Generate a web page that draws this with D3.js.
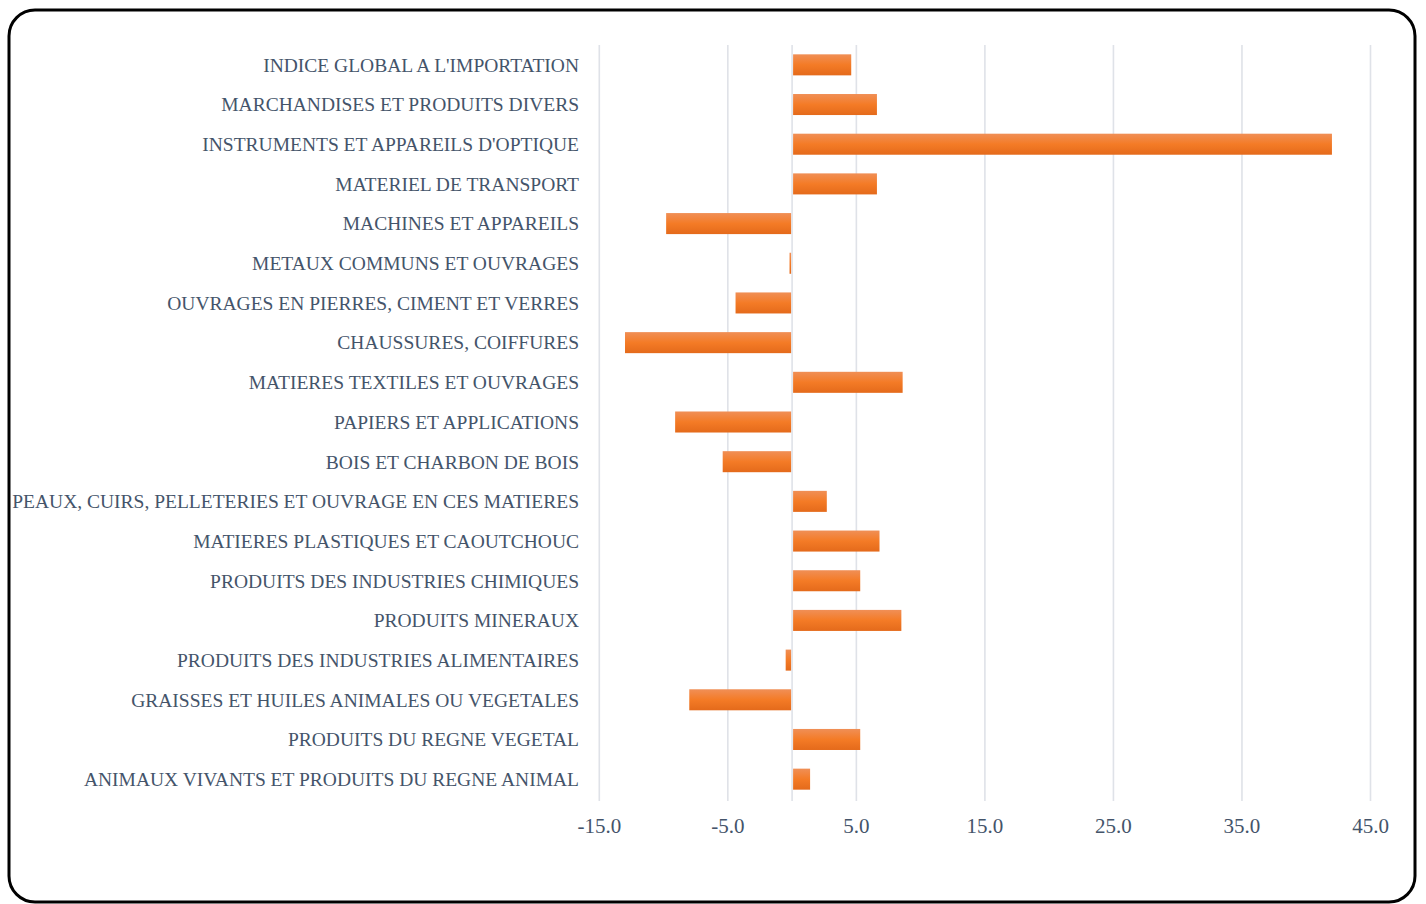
<!DOCTYPE html>
<html>
<head>
<meta charset="utf-8">
<script src="https://cdn.jsdelivr.net/npm/d3@7"></script>
<style>
  body { margin: 0; background: #fff; }
  svg text { font-family: "Liberation Serif", "DejaVu Serif", serif; fill: #44546a; }
</style>
</head>
<body>
<script>

var categories = [
  "INDICE GLOBAL A L'IMPORTATION",
  "MARCHANDISES ET PRODUITS DIVERS",
  "INSTRUMENTS ET APPAREILS D'OPTIQUE",
  "MATERIEL DE TRANSPORT",
  "MACHINES ET APPAREILS",
  "METAUX COMMUNS ET OUVRAGES",
  "OUVRAGES EN PIERRES, CIMENT ET VERRES",
  "CHAUSSURES, COIFFURES",
  "MATIERES TEXTILES ET OUVRAGES",
  "PAPIERS ET APPLICATIONS",
  "BOIS ET CHARBON DE BOIS",
  "PEAUX, CUIRS, PELLETERIES ET OUVRAGE EN CES MATIERES",
  "MATIERES PLASTIQUES ET CAOUTCHOUC",
  "PRODUITS DES INDUSTRIES CHIMIQUES",
  "PRODUITS MINERAUX",
  "PRODUITS DES INDUSTRIES ALIMENTAIRES",
  "GRAISSES ET HUILES ANIMALES OU VEGETALES",
  "PRODUITS DU REGNE VEGETAL",
  "ANIMAUX VIVANTS ET PRODUITS DU REGNE ANIMAL"
]

var values = [4.6, 6.6, 42.0, 6.6, -9.8, -0.2, -4.4, -13.0, 8.6, -9.1, -5.4, 2.7, 6.8, 5.3, 8.5, -0.5, -8.0, 5.3, 1.4]

var tickValues = [-15, -5, 5, 15, 25, 35, 45]

var W = 1426, H = 904
var plotLeft = 599.3, plotRight = 1370.5, plotTop = 45, plotBottom = 799

var svg = d3.select("body").append("svg")
  .attr("width", W)
  .attr("height", H)

var defs = svg.append("defs")
var grad = defs.append("linearGradient")
  .attr("id", "barGrad")
  .attr("x1", 0).attr("y1", 0).attr("x2", 0).attr("y2", 1)
grad.append("stop").attr("offset", "0%").attr("stop-color", "#f08f56")
grad.append("stop").attr("offset", "50%").attr("stop-color", "#f47b26")
grad.append("stop").attr("offset", "100%").attr("stop-color", "#e46a1b")

// frame
svg.append("rect")
  .attr("x", 9).attr("y", 10)
  .attr("width", 1406).attr("height", 892)
  .attr("rx", 26).attr("ry", 26)
  .style("fill", "#fff")
  .style("stroke", "#000")
  .style("stroke-width", 3)

var x = d3.scaleLinear().domain([-15, 45]).range([plotLeft, plotRight])
var y = d3.scaleBand().domain(categories).range([plotTop, plotBottom]).paddingInner(0.47).paddingOuter(0.235)

// gridlines (ticks + zero line)
var gridVals = tickValues.concat([0])
svg.append("g").selectAll("line")
  .data(gridVals)
  .enter().append("line")
  .attr("x1", function(d){ return x(d) })
  .attr("x2", function(d){ return x(d) })
  .attr("y1", plotTop)
  .attr("y2", plotBottom + 2)
  .style("stroke", "#dfe2e8")
  .style("stroke-width", 1.6)

// bars
svg.append("g").selectAll("rect")
  .data(values)
  .enter().append("rect")
  .attr("x", function(d){ return d >= 0 ? x(0) + 1 : x(d) })
  .attr("y", function(d, i){ return y(categories[i]) })
  .attr("width", function(d){ return Math.max(1, Math.abs(x(d) - x(0)) - 1) })
  .attr("height", y.bandwidth())
  .style("fill", "url(#barGrad)")

// category labels
svg.append("g").selectAll("text")
  .data(categories)
  .enter().append("text")
  .attr("x", 579)
  .attr("y", function(d){ return y(d) + y.bandwidth() / 2 })
  .attr("dy", "0.35em")
  .attr("text-anchor", "end")
  .style("font-size", "19.5px")
  .text(function(d){ return d })

// x axis tick labels
svg.append("g").selectAll("text")
  .data(tickValues)
  .enter().append("text")
  .attr("x", function(d){ return x(d) })
  .attr("y", 826)
  .attr("dy", "0.35em")
  .attr("text-anchor", "middle")
  .style("font-size", "21px")
  .text(function(d){ return d3.format(".1f")(d).replace("\u2212", "-") })

</script>
</body>
</html>
